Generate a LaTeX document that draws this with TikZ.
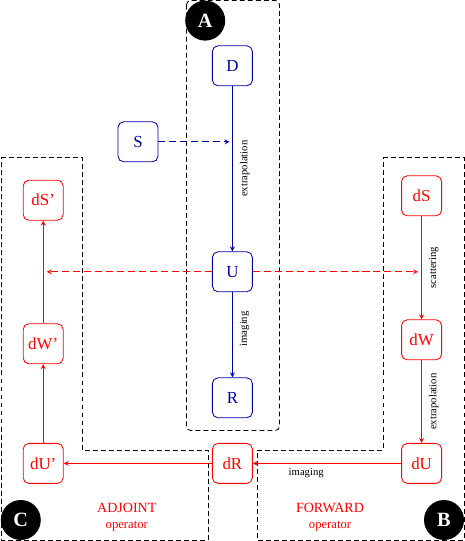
\documentclass[tikz,border=0pt]{standalone}
\usepackage{fontspec}
\setmainfont{Liberation Serif}
\definecolor{navy}{RGB}{0,0,160}
\newcommand{\lblfont}{\fontsize{7.6}{9}\selectfont}
\begin{document}
\begin{tikzpicture}[
  font=\large,
  box/.style    = {draw, rounded corners=4pt, minimum size=1cm, inner sep=2pt,
                   line width=0.6pt},
  fwd/.style    = {box, navy, text=navy},
  lin/.style    = {box, red, text=red},
  tag/.style    = {circle, fill=black, text=white, minimum size=1cm,
                   inner sep=0pt, font=\Large\bfseries},
  frame/.style  = {black, line width=0.6pt, dash pattern=on 3.5pt off 2.2pt},
  arr/.style    = {-stealth, line width=0.6pt},
  darr/.style   = {arr, dash pattern=on 5pt off 2.8pt},
  lbl/.style    = {font=\lblfont, text=black, rotate=90, anchor=north, inner sep=5pt},
  opname/.style = {red, font=\normalsize},
]
\useasboundingbox (0,0) rectangle (11.625,13.525);

%%────────── dashed frames ───────────────────────────────────
\draw[frame, rounded corners=3pt] (4.6625,13.5125) rectangle (6.9875,2.7625);
\draw[frame] (0.025,9.6) -- (2.05,9.6) -- (2.05,2.275) -- (5.2,2.275)
  -- (5.2,0.025) -- (0.025,0.025) -- cycle;
\draw[frame] (9.575,9.6) -- (11.6,9.6) -- (11.6,0.025) -- (6.425,0.025)
  -- (6.425,2.275) -- (9.575,2.275) -- cycle;

%%────────── A – wave field ──────────────────────────────────
\node[tag] (tagA) at (5.13,13.01) {A};
\node[fwd] (D) at (5.81,11.88) {D};
\node[fwd] (S) at (3.45, 9.98) {S};
\node[fwd] (U) at (5.81, 6.73) {U};
\node[fwd] (R) at (5.81, 3.58) {R};

\draw[arr, navy] (D) -- (U) node[lbl, midway] {extrapolation};
\draw[arr, navy] (U) -- (R) node[lbl, pos=0.43] {imaging};
\draw[darr, navy, shorten >=2pt] (S) -- (S -| U);

%%────────── B – forward operator ────────────────────────────
\node[tag] (tagB) at (11.1,0.525) {B};
\node[lin] (dS) at (10.54,8.63) {dS};
\node[lin] (dW) at (10.54,5.03) {dW};
\node[lin] (dU) at (10.54,1.94) {dU};
\node[lin] (dR) at ( 5.81,1.94) {dR};
\node[opname] (fwdname) at (8.25,0.83) {FORWARD};
\node[opname, font=\small] (fwdop) at (8.25,0.38) {operator};

\draw[arr, red] (dS) -- (dW) node[lbl, midway] {scattering};
\draw[arr, red] (dW) -- (dU) node[lbl, midway] {extrapolation};
\draw[arr, red] (dU) -- (dR) node[below, pos=0.64, font=\lblfont, text=black] {imaging};

%%────────── C – adjoint operator ────────────────────────────
\node[tag] (tagC) at (0.52,0.525) {C};
\node[lin] (dUa) at (1.08,1.94) {dU’};
\node[lin] (dWa) at (1.08,4.93) {dW’};
\node[lin] (dSa) at (1.08,8.52) {dS’};
\node[opname] (adjname) at (3.17,0.83) {ADJOINT};
\node[opname, font=\small] (adjop) at (3.17,0.38) {operator};

\draw[arr, red] (dR)  -- (dUa);
\draw[arr, red] (dUa) -- (dWa);
\draw[arr, red] (dWa) -- (dSa);

%%── linearisation about U ───────────────────────────────────
\draw[darr, red, shorten >=2.5pt] (U) -- (U -| dSa);
\draw[darr, red, shorten >=2.5pt] (U) -- (U -| dS);

\end{tikzpicture}
\end{document}
